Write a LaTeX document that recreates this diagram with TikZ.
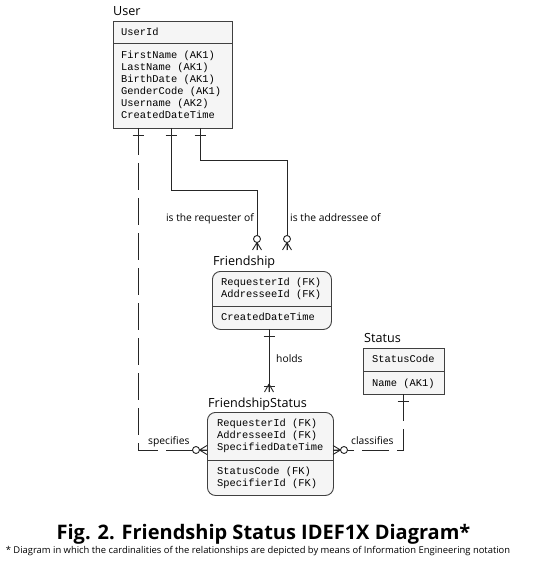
\documentclass[tikz,border=0pt]{standalone}
\usepackage{fontspec}
\setmainfont{Open Sans}
\newfontfamily\monofont{Liberation Mono}

\tikzset{
  entity/.style={draw=black!75, fill=black!4, line width=0.9pt, inner sep=0pt, anchor=north west},
  depentity/.style={entity, rounded corners=8pt},
  sepline/.style={draw=black!75, line width=0.9pt},
  attr/.style={font=\monofont\fontsize{10.4}{12}\selectfont, inner sep=0pt, anchor=base west},
  ename/.style={font=\fontsize{12.6}{14}\selectfont, inner sep=0pt, anchor=base west},
  rlabel/.style={font=\fontsize{10.3}{12}\selectfont, inner sep=0pt},
  rel/.style={draw=black!85, line width=0.9pt},
  nonid/.style={rel, dash pattern=on 27pt off 8pt},
  onebar/.pic={\draw[rel] (-7,-5.5) -- (-7,5.5);},
  zeromany/.pic={
    \draw[rel] (-7.5,0) -- (0,-4.5) (-7.5,0) -- (0,0) (-7.5,0) -- (0,4.5);
    \draw[rel, fill=white] (-11,0) circle[radius=3.5pt];},
  onemany/.pic={
    \draw[rel] (-8,0) -- (0,-4.5) (-8,0) -- (0,0) (-8,0) -- (0,4.5);
    \draw[rel] (-6,-5.5) -- (-6,5.5);}
}

\begin{document}
\begin{tikzpicture}[x=1pt, y=-1pt]
	\useasboundingbox (0,0) rectangle (540,564);

	% User
	\node[ename] (userlabel) at (113,16) {User};
	\node[entity, minimum width=119pt, minimum height=107pt] (user) at (113,21) {};
	\draw[sepline] (user.west |- 0,43) -- (user.east |- 0,43);
	\node[attr] (userkey) at (121,35.5) {UserId};
	\foreach \t [count=\i] in {FirstName (AK1), LastName (AK1), BirthDate (AK1), GenderCode (AK1), Username (AK2), CreatedDateTime}
		\node[attr] (userattr\i) at (121,46.5+12*\i) {\t};

	% Friendship
	\node[ename] (frlabel) at (213,265) {Friendship};
	\node[depentity, minimum width=119pt, minimum height=58pt] (fr) at (212,271) {};
	\draw[sepline] (fr.west |- 0,306) -- (fr.east |- 0,306);
	\node[attr] (frkey1) at (221,285.5) {RequesterId (FK)};
	\node[attr] (frkey2) at (221,297.5) {AddresseeId (FK)};
	\node[attr] (frattr1) at (221,320.5) {CreatedDateTime};

	% Status
	\node[ename] (stlabel) at (364,342) {Status};
	\node[entity, minimum width=81pt, minimum height=46pt] (st) at (363,348) {};
	\draw[sepline] (st.west |- 0,371) -- (st.east |- 0,371);
	\node[attr] (stkey) at (372,362.5) {StatusCode};
	\node[attr] (stattr1) at (372,386.5) {Name (AK1)};

	% FriendshipStatus
	\node[ename] (fslabel) at (208,407) {FriendshipStatus};
	\node[depentity, minimum width=126pt, minimum height=83pt] (fs) at (207,412) {};
	\draw[sepline] (fs.west |- 0,460) -- (fs.east |- 0,460);
	\node[attr] (fskey1) at (217,426.5) {RequesterId (FK)};
	\node[attr] (fskey2) at (217,438.5) {AddresseeId (FK)};
	\node[attr] (fskey3) at (217,450.5) {SpecifiedDateTime};
	\node[attr] (fsattr1) at (217,474.5) {StatusCode (FK)};
	\node[attr] (fsattr2) at (217,486.5) {SpecifierId (FK)};

	% relationship ends
	\coordinate (uspec) at (138,128);
	\coordinate (ureq) at (171,128);
	\coordinate (uadd) at (200,128);
	\coordinate (rbend) at (171,190);
	\coordinate (abend) at (200,160);
	\coordinate (freq) at (257,250);
	\coordinate (fadd) at (287,250);
	\coordinate (frbot) at (269,329);
	\coordinate (fstop) at (269,392);
	\coordinate (fsleft) at (207,450);
	\coordinate (fsright) at (333,450);
	\coordinate (stbot) at (403,394);

	\draw[rel] (ureq) -- (rbend) -| (freq);
	\draw[rel] (uadd) -- (abend) -| (fadd);
	\draw[rel] (frbot) -- (fstop);
	\draw[nonid] (uspec) |- (fsleft);
	\draw[nonid] (stbot) |- (fsright);

	\pic[rotate=90] at (uspec) {onebar};
	\pic[rotate=90] at (ureq) {onebar};
	\pic[rotate=90] at (uadd) {onebar};
	\pic[rotate=90] at (frbot) {onebar};
	\pic[rotate=90] at (stbot) {onebar};
	\pic[rotate=-90] at (freq) {zeromany};
	\pic[rotate=-90] at (fadd) {zeromany};
	\pic[rotate=-90] at (fstop) {onemany};
	\pic at (fsleft) {zeromany};
	\pic[rotate=180] at (fsright) {zeromany};

	\node[rlabel, anchor=base east] (reqlabel) at (254,221.5) {is the requester of};
	\node[rlabel, anchor=base west] (addlabel) at (290,221.5) {is the addressee of};
	\node[rlabel, anchor=base west] (holdslabel) at (276,362) {holds};
	\node[rlabel, anchor=base west] (speclabel) at (148,444) {specifies};
	\node[rlabel, anchor=base west] (classlabel) at (351,444) {classifies};

	% caption
	\node[font=\bfseries\fontsize{20}{22}\selectfont, inner sep=0pt, anchor=base] (caption) at (263.5,539) {Fig. 2. Friendship Status IDEF1X Diagram*};
	\node[font=\fontsize{9.4}{10}\selectfont, inner sep=0pt, anchor=base] (note) at (258,553) {* Diagram in which the cardinalities of the relationships are depicted by means of Information Engineering notation};
\end{tikzpicture}
\end{document}
